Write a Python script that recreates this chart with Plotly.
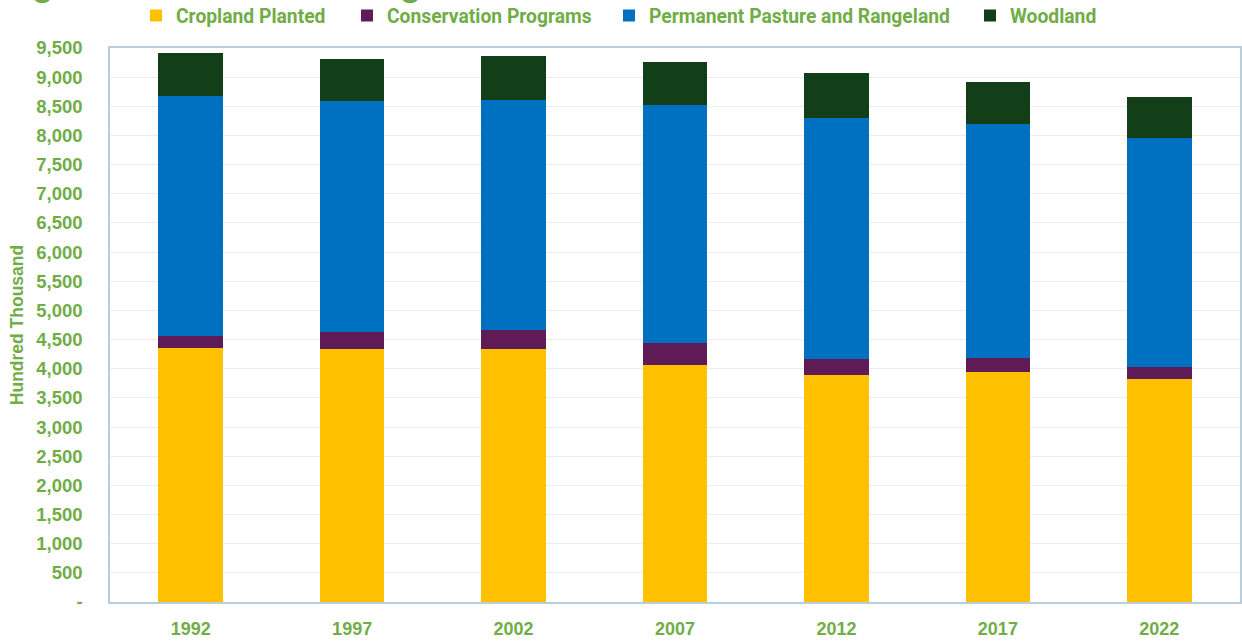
import plotly.graph_objects as go

years = ["1992", "1997", "2002", "2007", "2012", "2017", "2022"]
cropland_planted = [4353, 4331, 4331, 4057, 3891, 3949, 3817]
conservation_programs = [217, 296, 325, 382, 269, 239, 211]
permanent_pasture = [4109, 3966, 3949, 4086, 4148, 4006, 3926]
woodland = [730, 714, 758, 741, 770, 724, 713]

series_names = ["Cropland Planted", "Conservation Programs",
                "Permanent Pasture and Rangeland", "Woodland"]
series_values = [cropland_planted, conservation_programs, permanent_pasture, woodland]
series_colors = ["#FFC000", "#5F1B56", "#0070C0", "#123F17"]

y_tickvals = list(range(0, 9501, 500))
y_ticktext = ["-"] + [f"{v:,}" for v in y_tickvals[1:]]

GREEN = "#70AD47"
FONT = "Liberation Sans, Arial, sans-serif"
LEGEND_FONT = "Roboto, Liberation Sans, Arial, sans-serif"

W, H = 1242, 642
ML, MR, MT, MB = 110, 2, 48, 40
PW = W - ML - MR
PH = H - MT - MB

legend_names = ["legend", "legend2", "legend3", "legend4"]
legend_text_start = [176, 387, 649, 1010]

fig = go.Figure()
for name, vals, col, lg in zip(series_names, series_values, series_colors, legend_names):
    fig.add_trace(go.Bar(
        x=years, y=vals, name=name, legend=lg,
        marker=dict(color=col, line=dict(width=0)),
    ))

layout_legends = {}
for lg, tx in zip(legend_names, legend_text_start):
    layout_legends[lg] = dict(
        orientation="h",
        xref="container", yref="container",
        x=(tx - 40) / W, xanchor="left",
        y=1 - 16 / H, yanchor="middle",
        bgcolor="rgba(0,0,0,0)", borderwidth=0,
        font=dict(family=LEGEND_FONT, size=19.3, color=GREEN, weight="bold"),
        itemclick=False, itemdoubleclick=False,
    )

fig.update_layout(
    width=W, height=H,
    margin=dict(l=ML, r=MR, t=MT, b=MB, autoexpand=False),
    paper_bgcolor="white", plot_bgcolor="white",
    barmode="stack", bargap=0.6,
    showlegend=True,
    **layout_legends,
    xaxis=dict(
        type="category",
        showline=True, mirror=True, linecolor="#B9CEDC", linewidth=1.5,
        showgrid=False, ticks="", ticklabelstandoff=10,
        tickfont=dict(family=FONT, size=18, color=GREEN, weight="bold"),
    ),
    yaxis=dict(
        range=[0, 9500],
        tickvals=y_tickvals, ticktext=y_ticktext,
        showline=True, mirror=True, linecolor="#B9CEDC", linewidth=1.5,
        showgrid=True, gridcolor="#EDEDED", gridwidth=1,
        zeroline=False, ticks="", ticklabelstandoff=22,
        tickfont=dict(family=FONT, size=18.5, color=GREEN, weight="bold"),
        title=dict(text="Hundred Thousand", standoff=8,
                   font=dict(family=FONT, size=17.5, color=GREEN, weight="bold")),
    ),
    annotations=[dict(
        text="Figure 3. Land Use Categories",
        xref="paper", yref="paper", x=(-1 - ML) / PW, y=1 + 65 / PH,
        xanchor="left", yanchor="middle",
        showarrow=False,
        font=dict(family=FONT, size=35, color=GREEN, weight="bold"),
    )],
)

fig.write_html("out.html")
